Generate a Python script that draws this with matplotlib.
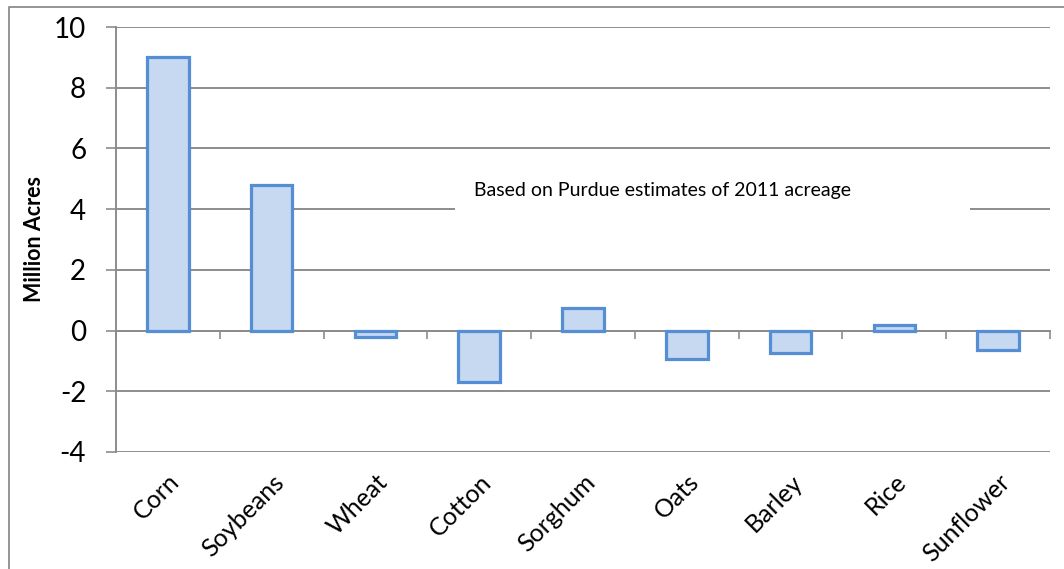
import matplotlib
matplotlib.use("Agg")
import matplotlib.pyplot as plt
from matplotlib.patches import Rectangle
from matplotlib.lines import Line2D
import numpy as np

categories = ["Corn", "Soybeans", "Wheat", "Cotton", "Sorghum", "Oats", "Barley", "Rice", "Sunflower"]
values = [9.0, 4.8, -0.2, -1.7, 0.75, -0.95, -0.75, 0.2, -0.65]
y_ticks = [-4, -2, 0, 2, 4, 6, 8, 10]
y_label = "Million Acres"
note = "Based on Purdue estimates of 2011 acreage"

plt.rcParams['font.family'] = ['Lato', 'DejaVu Sans']

fig = plt.figure(figsize=(10.64, 5.69), dpi=100)
ax = fig.add_axes([116/1064, 1-452/569, (1050-116)/1064, (452-27)/569])

x = np.arange(len(categories))
ax.bar(x, values, width=0.4, color="#C6D9F1", edgecolor="#558ED5", linewidth=2.3, zorder=3)

ax.set_xlim(-0.5, len(categories) - 0.5)
ax.set_ylim(min(y_ticks), max(y_ticks))
ax.set_yticks(y_ticks)
ax.set_yticklabels([str(v) for v in y_ticks])
grid_c = "#8C8C8C"
ax.yaxis.grid(True, color=grid_c, linewidth=1.4)
ax.set_axisbelow(True)
ax.tick_params(axis='y', direction='out', length=7.5, width=1.2, color=grid_c,
               labelsize=20, pad=14)
for s in ['top', 'right', 'bottom']:
    ax.spines[s].set_visible(False)
ax.spines['left'].set_color(grid_c)
ax.spines['left'].set_linewidth(1.4)

ax.set_xticks(x)
ax.set_xticklabels(categories, rotation=45, ha='right', rotation_mode='anchor', fontsize=18)
ax.tick_params(axis='x', length=0, pad=13)

# category axis at zero with boundary ticks
sec = ax.secondary_xaxis(0, transform=ax.transData)
sec.set_xticks(np.arange(len(categories) + 1) - 0.5)
sec.tick_params(axis='x', direction='out', length=6, width=1.2, color=grid_c, labelbottom=False)
sec.spines['bottom'].set_color(grid_c)
sec.spines['bottom'].set_linewidth(1.4)

ax.set_ylabel(y_label, fontsize=15.5, fontweight='bold')
ax.yaxis.set_label_coords(-0.076, 0.5)

# note text box
ax.add_patch(Rectangle((0.363, 0.50), 0.551, 0.16, transform=ax.transAxes,
                       facecolor='white', edgecolor='none', zorder=1.5))
ax.text(0.383, 0.616, note, transform=ax.transAxes, fontsize=14, va='center', ha='left', zorder=2)

# figure border (left and top)
fig.add_artist(Line2D([8.5/1064, 8.5/1064, 1.01], [-0.01, 1-7/569, 1-7/569],
                      transform=fig.transFigure, color="#8C8C8C", linewidth=1.3))

fig.savefig("out.png", dpi=100)
